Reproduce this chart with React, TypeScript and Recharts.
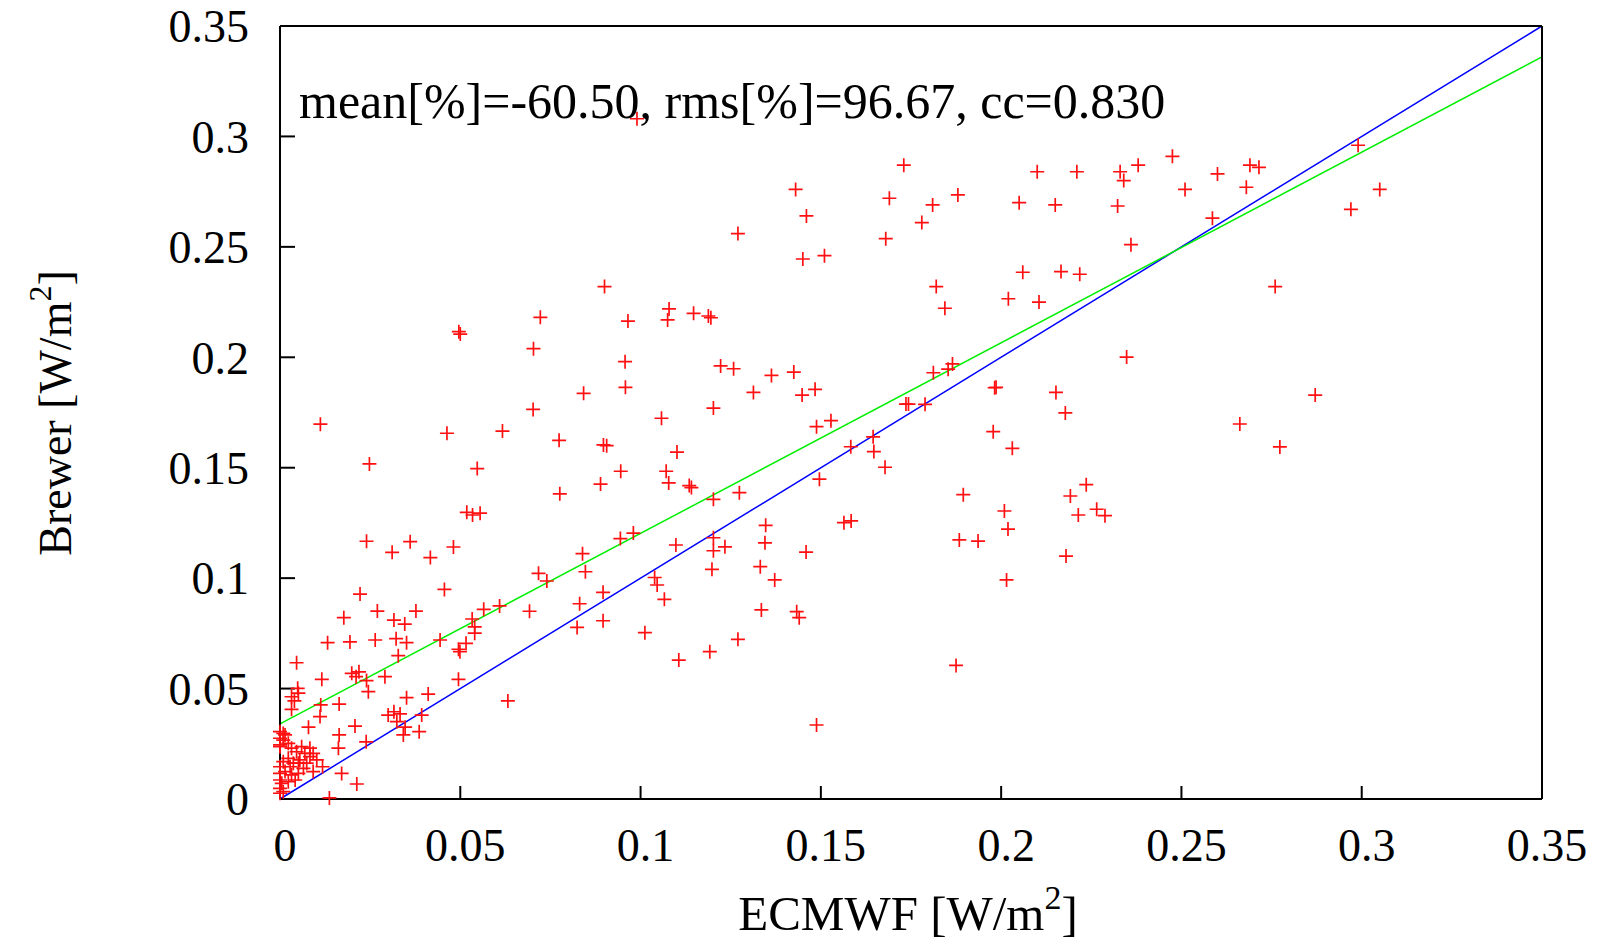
import React from "react";
import { ScatterChart, Scatter, XAxis, YAxis, ReferenceLine } from "recharts";

// ECMWF (x) and Brewer (y) values, W/m^2
const ecmwf = [
  0.099, 0.173, 0.238, 0.2475, 0.233, 0.234, 0.21, 0.221, 0.26, 0.269, 0.2715, 0.268, 0.251, 0.299, 0.305, 0.297,
  0.143, 0.169, 0.181, 0.188, 0.205, 0.215, 0.2323, 0.146, 0.2586, 0.178, 0.127, 0.168, 0.236, 0.145, 0.151, 0.09,
  0.182, 0.276, 0.206, 0.2166, 0.2218, 0.2105, 0.202, 0.1844, 0.0722, 0.0965, 0.1079, 0.1075, 0.1147, 0.1188, 0.1195,
  0.0496, 0.05, 0.0703, 0.0957, 0.0958, 0.0842, 0.0702, 0.1202, 0.1058, 0.0112, 0.0463, 0.0617, 0.0774, 0.0897,
  0.0906, 0.1101, 0.0248, 0.0547, 0.0945, 0.1071, 0.0889, 0.1078, 0.1135, 0.1141, 0.0776, 0.0518, 0.0534, 0.0555,
  0.1202, 0.024, 0.0311, 0.0361, 0.0417, 0.0481, 0.0944, 0.098, 0.0839, 0.1098, 0.1202, 0.1202, 0.1198, 0.0717,
  0.074, 0.0847, 0.1039, 0.1046, 0.1066, 0.0896, 0.0831, 0.0896, 0.0824, 0.0222, 0.0177, 0.027, 0.0316, 0.0346,
  0.0377, 0.0456, 0.0533, 0.054, 0.0565, 0.0609, 0.0692, 0.1222, 0.1258, 0.1363, 0.1425, 0.1313, 0.1448, 0.1484,
  0.1488, 0.1528, 0.1812, 0.1853, 0.1865, 0.1982, 0.1986, 0.2152, 0.2178, 0.2348, 0.1743, 0.1736, 0.1789, 0.1978,
  0.2031, 0.1645, 0.1583, 0.1647, 0.1678, 0.1496, 0.1274, 0.1895, 0.2009, 0.2019, 0.1884, 0.1936, 0.2236, 0.2192,
  0.2214, 0.2265, 0.2288, 0.218, 0.2015, 0.1234, 0.1347, 0.1345, 0.1332, 0.1372, 0.1459, 0.1564, 0.1584, 0.1335,
  0.1433, 0.144, 0.1012, 0.1106, 0.1192, 0.127, 0.0632, 0.1488, 0.1875, 0.2871, 0.2662, 0.2773,
  0.0132, 0.0194, 0.0264, 0.0322, 0.0351, 0.0328, 0.0444, 0.0495, 0.0499, 0.0516, 0.054, 0.0046, 0.0116, 0.0049,
  0.0051, 0.0032, 0.004, 0.0032, 0.0113, 0.0164, 0.0111, 0.0079, 0.0009, 0.0164, 0.0208, 0.0199, 0.0211, 0.0219,
  0.024, 0.0245, 0.0291, 0.0162, 0.0239, 0.03, 0.0316, 0.0333, 0.0324, 0.0347, 0.0342, 0.0393, 0.0386, 0.0351,
  0.0411, 0.0495, 0.0118, 0.0171, 0.0213, 0.0137,
  0.0, 0.0, 0.0014, 0.0023, 0.0032, 0.0046, 0.006, 0.0069, 0.0083, 0.0092, 0.0055, 0.0074, 0.0037, 0.0023, 0.0009,
  0.0, 0.0, 0.0014, 0.0032, 0.0051, 0.0065, 0.0, 0.0005, 0.0023, 0.0042, 0.0, 0.0009, 0.0, 0.0092, 0.0102, 0.0,
  0.0, 0.0009, 0.0028, 0.0051, 0.0083,
];
const brewer = [
  0.308, 0.287, 0.287, 0.291, 0.284, 0.28, 0.284, 0.284, 0.283, 0.287, 0.286, 0.277, 0.276, 0.296, 0.276, 0.267,
  0.276, 0.272, 0.269, 0.2735, 0.27, 0.269, 0.2685, 0.264, 0.263, 0.261, 0.256, 0.2537, 0.251, 0.2445, 0.246, 0.232,
  0.232, 0.232, 0.2385, 0.2388, 0.2376, 0.225, 0.2265, 0.2222, 0.2181, 0.2164, 0.2219, 0.2169, 0.2199, 0.2187, 0.2179,
  0.2116, 0.2105, 0.2039, 0.198, 0.1864, 0.1837, 0.1764, 0.177, 0.1724, 0.1697, 0.1656, 0.1666, 0.1624, 0.1603,
  0.16, 0.1571, 0.1517, 0.1496, 0.1484, 0.1484, 0.1426, 0.1431, 0.1419, 0.141, 0.1382, 0.1298, 0.1286, 0.1294,
  0.1357, 0.1167, 0.1117, 0.1165, 0.1093, 0.1141, 0.1179, 0.1204, 0.1111, 0.115, 0.1183, 0.1124, 0.104, 0.1022,
  0.0987, 0.1029, 0.1003, 0.0969, 0.0904, 0.0936, 0.0884, 0.0807, 0.0777, 0.0928, 0.0821, 0.0851, 0.081, 0.0792,
  0.0851, 0.0949, 0.0815, 0.0779, 0.0859, 0.0874, 0.085, 0.1961, 0.1948, 0.1918, 0.1933, 0.1841, 0.1829, 0.1855,
  0.1686, 0.1713, 0.193, 0.1946, 0.197, 0.1862, 0.1864, 0.1841, 0.1748, 0.2001, 0.1788, 0.1788, 0.1787, 0.1663,
  0.1588, 0.164, 0.1595, 0.1573, 0.1502, 0.1448, 0.1387, 0.1378, 0.1304, 0.1222, 0.1173, 0.1168, 0.1423, 0.1372,
  0.1286, 0.1312, 0.1283, 0.11, 0.0992, 0.1142, 0.1239, 0.116, 0.1052, 0.0992, 0.1118, 0.1251, 0.1259, 0.0856,
  0.0848, 0.0821, 0.0753, 0.0629, 0.0667, 0.0723, 0.0444, 0.0335, 0.0605, 0.1829, 0.1698, 0.1594,
  0.0708, 0.0711, 0.072, 0.0726, 0.0708, 0.0649, 0.072, 0.0678, 0.0667, 0.0705, 0.0751, 0.0617, 0.0542, 0.0501,
  0.0479, 0.0463, 0.0444, 0.0406, 0.0426, 0.043, 0.0373, 0.0325, 0.0297, 0.029, 0.033, 0.0569, 0.0554, 0.0576,
  0.0536, 0.0486, 0.0554, 0.023, 0.0259, 0.038, 0.0395, 0.0385, 0.035, 0.0325, 0.029, 0.038, 0.0305, 0.0459,
  0.0475, 0.0542, 0.0146, 0.0116, 0.0068, 0.0005,
  0.0275, 0.0245, 0.029, 0.0252, 0.023, 0.0214, 0.0237, 0.0207, 0.023, 0.0207, 0.0177, 0.0162, 0.0162, 0.0184, 0.0169,
  0.0146, 0.0116, 0.0124, 0.0109, 0.0116, 0.0139, 0.0086, 0.0071, 0.0078, 0.0086, 0.0048, 0.0033, 0.0026, 0.0124,
  0.0177, 0.0237, 0.0305, 0.0267, 0.0146, 0.0162, 0.0192,
];

// axis ticks
const tickValues = [0, 0.05, 0.1, 0.15, 0.2, 0.25, 0.3, 0.35];
const tickLabels = ["0", "0.05", "0.1", "0.15", "0.2", "0.25", "0.3", "0.35"];

// 1:1 line and fitted line end points (x, y)
const diagX = [0, 0.35];
const diagY = [0, 0.35];
const fitX = [0, 0.35];
const fitY = [0.034, 0.336];

const statsText = "mean[%]=-60.50, rms[%]=96.67, cc=0.830";

const points = ecmwf.map((x, i) => ({ x, y: brewer[i] }));

const FONT = "'Liberation Serif', 'Times New Roman', serif";

const PlusShape = (props: any) => {
  const { cx, cy } = props;
  if (cx == null || cy == null || isNaN(cx) || isNaN(cy)) return <g />;
  return (
    <path
      d={`M${cx - 7},${cy}H${cx + 7}M${cx},${cy - 7}V${cy + 7}`}
      stroke="#ff1010"
      strokeWidth={1.7}
      fill="none"
    />
  );
};

const fmt = (v: number) => {
  const i = tickValues.findIndex((t) => Math.abs(t - v) < 1e-9);
  return i >= 0 ? tickLabels[i] : String(v);
};

export default function App() {
  const W = 1599;
  const H = 940;
  const axisStroke = { stroke: "#000", strokeWidth: 2 };
  return (
    <div style={{ position: "absolute", left: 0, top: 0, width: W, height: H, background: "#fff" }}>
      <ScatterChart width={W} height={H} margin={{ top: 25, right: 56, bottom: 0, left: 0 }}>
        <XAxis
          xAxisId="b"
          type="number"
          dataKey="x"
          domain={[0, 0.35]}
          ticks={tickValues}
          interval={0}
          orientation="bottom"
          height={141}
          tickSize={-13}
          tickMargin={42}
          tickFormatter={fmt}
          axisLine={axisStroke}
          tickLine={axisStroke}
          tick={{ fontFamily: FONT, fontSize: 46, fill: "#000", dx: 5 }}
        />
        <XAxis
          xAxisId="t"
          type="number"
          domain={[0, 0.35]}
          ticks={tickValues}
          interval={0}
          orientation="top"
          height={1}
          tickSize={-13}
          tick={false}
          axisLine={axisStroke}
          tickLine={axisStroke}
        />
        <YAxis
          yAxisId="l"
          type="number"
          dataKey="y"
          domain={[0, 0.35]}
          ticks={tickValues}
          interval={0}
          orientation="left"
          width={280}
          tickSize={-15}
          tickMargin={46}
          tickFormatter={fmt}
          axisLine={axisStroke}
          tickLine={axisStroke}
          tick={{ fontFamily: FONT, fontSize: 46, fill: "#000" }}
        />
        <YAxis
          yAxisId="r"
          type="number"
          domain={[0, 0.35]}
          ticks={tickValues}
          interval={0}
          orientation="right"
          width={1}
          tickSize={-15}
          tick={false}
          axisLine={axisStroke}
          tickLine={axisStroke}
        />
        <ReferenceLine
          xAxisId="b"
          yAxisId="l"
          segment={[
            { x: diagX[0], y: diagY[0] },
            { x: diagX[1], y: diagY[1] },
          ]}
          stroke="#0000ff"
          strokeWidth={1.5}
        />
        <ReferenceLine
          xAxisId="b"
          yAxisId="l"
          segment={[
            { x: fitX[0], y: fitY[0] },
            { x: fitX[1], y: fitY[1] },
          ]}
          stroke="#00ee00"
          strokeWidth={1.5}
        />
        <Scatter
          xAxisId="b"
          yAxisId="l"
          data={points}
          shape={<PlusShape />}
          isAnimationActive={false}
        />
      </ScatterChart>
      <svg
        width={W}
        height={H}
        style={{ position: "absolute", left: 0, top: 0, pointerEvents: "none" }}
      >
        <text x={299} y={118} fontFamily={FONT} fontSize={50} fill="#000">
          {statsText}
        </text>
        <text x={908} y={930} fontFamily={FONT} fontSize={49} fill="#000" textAnchor="middle">
          ECMWF [W/m
          <tspan dy={-21} fontSize={34}>2</tspan>
          <tspan dy={21}>]</tspan>
        </text>
        <text
          x={0}
          y={0}
          transform="translate(71,413) rotate(-90)"
          fontFamily={FONT}
          fontSize={46}
          fill="#000"
          textAnchor="middle"
        >
          Brewer [W/m
          <tspan dy={-20} fontSize={32}>2</tspan>
          <tspan dy={20}>]</tspan>
        </text>
      </svg>
    </div>
  );
}
